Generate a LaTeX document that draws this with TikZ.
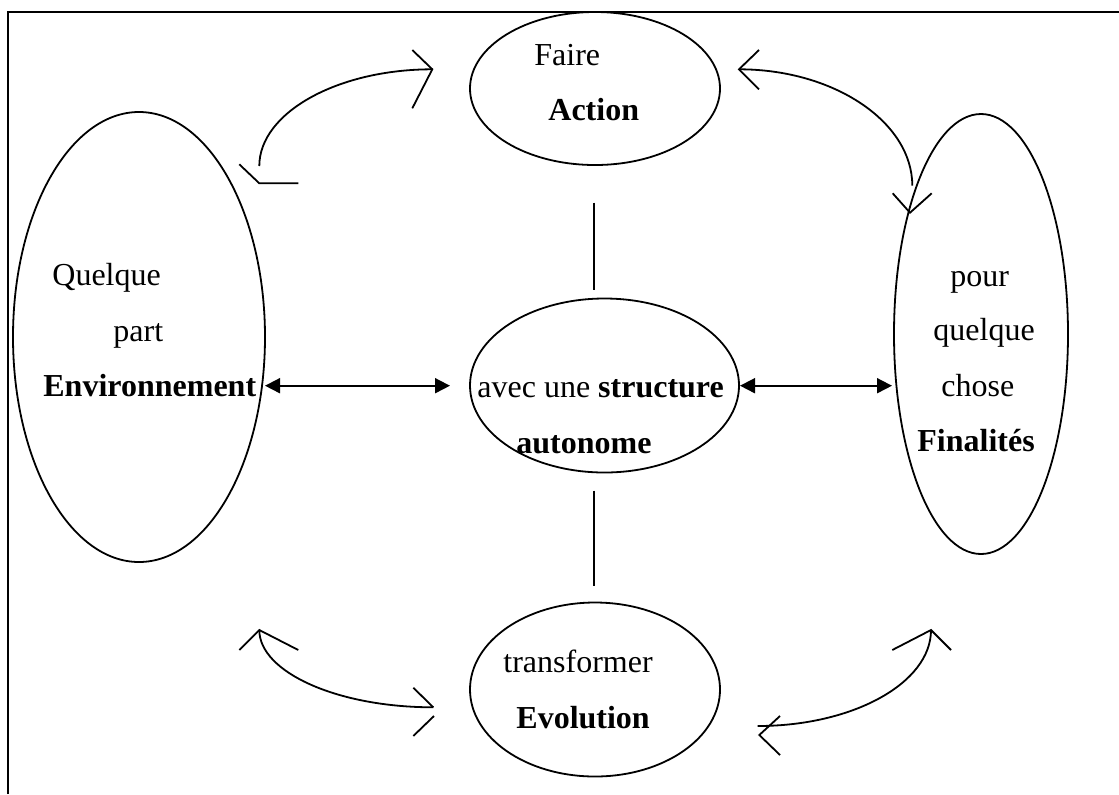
\documentclass[tikz,border=0pt]{standalone}
\usepackage{fontspec}
\setmainfont{Liberation Serif}
\usetikzlibrary{arrows.meta,shapes.geometric}
\begin{document}
\begin{tikzpicture}[x=0.5pt,y=-0.5pt,
  oval/.style={draw,ellipse,line width=0.9pt,inner sep=0pt,outer sep=0pt},
  lbl/.style={anchor=base west,inner sep=0pt,font=\fontsize{16}{19}\selectfont},
  conn/.style={line width=0.9pt},
  dbl/.style={line width=0.9pt,{Triangle[length=7.5pt,width=7.5pt]}-{Triangle[length=7.5pt,width=7.5pt]}},
  framestyle/.style={line width=1pt}]
\useasboundingbox (0,0) rectangle (1119,794);
% frame
\coordinate (fbl) at (7.5,794);
\coordinate (ftl) at (7.5,12);
\coordinate (ftr) at (1119,12);
\draw[framestyle] (fbl) -- (ftl) -- (ftr);
% ellipses
\node[oval,minimum width=125pt,minimum height=76.5pt] (action) at (595,88.5) {};
\node[oval,minimum width=126pt,minimum height=225pt] (env) at (139,337) {};
\node[oval,minimum width=87pt,minimum height=220pt] (fin) at (981,334) {};
\node[oval,minimum width=134.5pt,minimum height=87pt] (struct) at (604.5,385.5) {};
\node[oval,minimum width=125pt,minimum height=87pt] (evol) at (595,689.5) {};
% texts
\node[lbl] (tfaire) at (534,65) {Faire};
\node[lbl] (taction) at (548,120) {\textbf{Action}};
\node[lbl] (tquelque) at (52,285.7) {Quelque};
\node[lbl] (tpart) at (113,341.7) {part};
\node[lbl] (tenv) at (43,396.7) {\textbf{Environnement}};
\node[lbl] (tpour) at (950,286.7) {pour};
\node[lbl] (tquelque2) at (933,340.7) {quelque};
\node[lbl] (tchose) at (941,396) {chose};
\node[lbl] (tfin) at (917,451.7) {\textbf{Finalités}};
\node[lbl] (tavec) at (477,397) {avec une \textbf{structure}};
\node[lbl] (tauto) at (516,453) {\textbf{autonome}};
\node[lbl] (ttrans) at (503,672) {transformer};
\node[lbl] (tevol) at (516,728) {\textbf{Evolution}};
% horizontal double arrows
\coordinate (a1e) at (450,385.7);
\draw[dbl] (env.east |- a1e) -- (a1e);
\coordinate (a2e) at (892,385.7);
\coordinate (a2s) at (740,385.7);
\draw[dbl] (a2s) -- (a2e);
% vertical lines
\coordinate (v1a) at (594,202.7);
\coordinate (v1b) at (594,290);
\draw[conn] (v1a) -- (v1b);
\coordinate (v2a) at (594,490.7);
\coordinate (v2b) at (594,586);
\draw[conn] (v2a) -- (v2b);
% curve 1 (top left)
\coordinate (c1s) at (259.3,166);
\coordinate (c1e) at (432.3,69.3);
\draw[conn] (c1s) .. controls (259.3,113) and (337,69.3) .. (c1e);
\draw[conn] (412.3,50) -- (c1e) -- (412.3,108.3);
\draw[conn] (239.3,164.3) -- (259.3,183.3) -- (298.3,183.3);
% curve 2 (top right)
\coordinate (c2s) at (739,69.3);
\coordinate (c2e) at (912.3,185.7);
\draw[conn] (c2s) .. controls (834,69.3) and (912.3,122) .. (c2e);
\draw[conn] (759,50) -- (c2s) -- (759,89.3);
\draw[conn] (892.7,193.3) -- (910,212.7) -- (931.7,193.3);
% curve 3 (bottom left)
\coordinate (c3s) at (259.3,630);
\coordinate (c3e) at (433.3,707.3);
\draw[conn] (c3s) .. controls (259.3,672) and (337,707.3) .. (c3e);
\draw[conn] (239.3,650) -- (c3s) -- (298.3,650);
\draw[conn] (413.3,687.7) -- (c3e);
\draw[conn] (434,716) -- (413.3,736);
% curve 4 (bottom right)
\coordinate (c4s) at (931,630);
\coordinate (c4e) at (757.7,726);
\draw[conn] (c4s) .. controls (931,683) and (853,726) .. (c4e);
\draw[conn] (892.3,650) -- (c4s) -- (951,650);
\draw[conn] (780,716) -- (759.3,735) -- (780,755);
\end{tikzpicture}
\end{document}
